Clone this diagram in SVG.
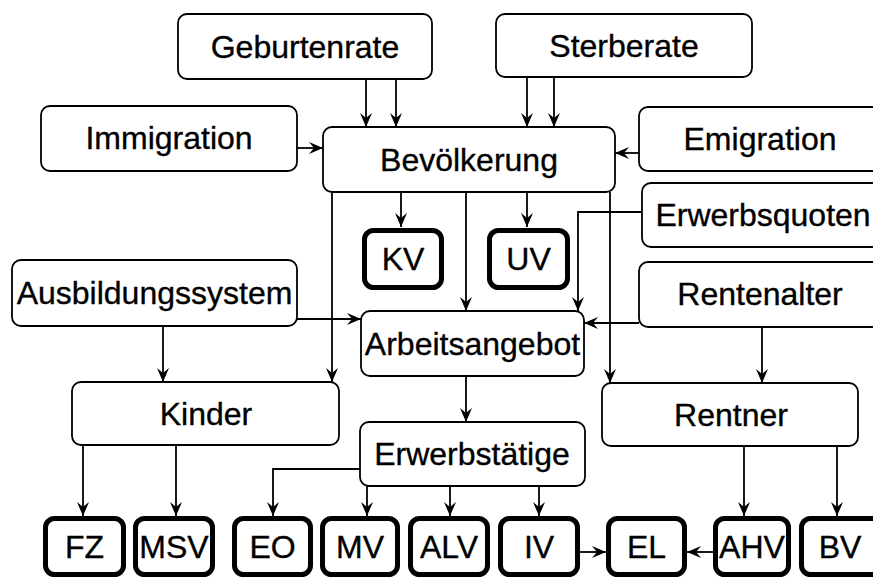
<svg xmlns="http://www.w3.org/2000/svg" width="873" height="578" viewBox="0 0 873 578">
  <style>
    .box { fill: #fff; stroke: #000; stroke-width: 1.8; }
    .ins { fill: #fff; stroke: #000; stroke-width: 5; }
    .lbl { font-family: "Liberation Sans", Arial, sans-serif; font-size: 32px; fill: #000; stroke: #000; stroke-width: 0.35; text-anchor: middle; }
    .edge { fill: none; stroke: #000; stroke-width: 1.8; marker-end: url(#arr); }
  </style>
  <defs>
    <marker id="arr" markerUnits="userSpaceOnUse" viewBox="-15 -7 16 14" refX="0" refY="0" markerWidth="16" markerHeight="14" orient="auto">
      <path d="M-14,-6 L0,0 L-14,6 L-9,0 z" fill="#000"/>
    </marker>
  </defs>

  <rect width="873" height="578" fill="#fff"/>

  <!-- connectors -->
  <g id="connectors">
    <path class="edge" d="M366,79 V127"/>
    <path class="edge" d="M396,79 V127"/>
    <path class="edge" d="M527,77 V127"/>
    <path class="edge" d="M554,77 V127"/>
    <path class="edge" d="M297,148 H323"/>
    <path class="edge" d="M639,153 H615"/>
    <path class="edge" d="M332,192 V382"/>
    <path class="edge" d="M401,192 V227"/>
    <path class="edge" d="M466,192 V311"/>
    <path class="edge" d="M527,192 V227"/>
    <path class="edge" d="M610,192 V383"/>
    <path class="edge" d="M642,212 H578 V311"/>
    <path class="edge" d="M297,319 H361"/>
    <path class="edge" d="M163,326 V382"/>
    <path class="edge" d="M639,323 H584"/>
    <path class="edge" d="M762,327 V383"/>
    <path class="edge" d="M466,376 V422"/>
    <path class="edge" d="M83,445 V516"/>
    <path class="edge" d="M176,445 V516"/>
    <path class="edge" d="M360,469 H273 V516"/>
    <path class="edge" d="M367,486 V516"/>
    <path class="edge" d="M450,486 V516"/>
    <path class="edge" d="M539,486 V516"/>
    <path class="edge" d="M580,552 H606"/>
    <path class="edge" d="M713,552 H687"/>
    <path class="edge" d="M744,446 V516"/>
    <path class="edge" d="M837,446 V516"/>
  </g>

  <!-- input nodes -->
  <g id="geburtenrate"><rect class="box" x="178" y="14" width="254" height="65" rx="9"/><text class="lbl" x="305" y="58">Geburtenrate</text></g>
  <g id="sterberate"><rect class="box" x="496" y="14" width="256" height="63" rx="9"/><text class="lbl" x="624" y="57">Sterberate</text></g>
  <g id="immigration"><rect class="box" x="41" y="106" width="256" height="65" rx="9"/><text class="lbl" x="169" y="149">Immigration</text></g>
  <g id="emigration"><rect class="box" x="639" y="107" width="245" height="64" rx="9"/><text class="lbl" x="760" y="150">Emigration</text></g>
  <g id="bevoelkerung"><rect class="box" x="323" y="127" width="292" height="65" rx="9"/><text class="lbl" x="469" y="171">Bevölkerung</text></g>
  <g id="erwerbsquoten"><rect class="box" x="642" y="183" width="245" height="64" rx="9"/><text class="lbl" x="763" y="226">Erwerbsquoten</text></g>
  <g id="ausbildungssystem"><rect class="box" x="12" y="260" width="285" height="66" rx="9"/><text class="lbl" x="154.5" y="304">Ausbildungssystem</text></g>
  <g id="rentenalter"><rect class="box" x="639" y="262" width="245" height="65" rx="9"/><text class="lbl" x="760" y="305">Rentenalter</text></g>
  <g id="arbeitsangebot"><rect class="box" x="361" y="311" width="223" height="65" rx="9"/><text class="lbl" x="472.5" y="355">Arbeitsangebot</text></g>
  <g id="kinder"><rect class="box" x="72" y="382" width="267" height="63" rx="9"/><text class="lbl" x="206" y="425">Kinder</text></g>
  <g id="rentner"><rect class="box" x="602" y="383" width="256" height="63" rx="9"/><text class="lbl" x="731" y="426">Rentner</text></g>
  <g id="erwerbstaetige"><rect class="box" x="360" y="422" width="225" height="64" rx="9"/><text class="lbl" x="472" y="465">Erwerbstätige</text></g>

  <!-- insurance nodes (thick frames) -->
  <g id="kv"><rect class="ins" x="364.5" y="230.5" width="77" height="57" rx="9"/><text class="lbl" x="403" y="270">KV</text></g>
  <g id="uv"><rect class="ins" x="489.5" y="230.5" width="78" height="57" rx="9"/><text class="lbl" x="528.5" y="270">UV</text></g>
  <g id="fz"><rect class="ins" x="45.5" y="518.5" width="78" height="56" rx="9"/><text class="lbl" x="84.5" y="558">FZ</text></g>
  <g id="msv"><rect class="ins" x="135.5" y="518.5" width="77" height="56" rx="9"/><text class="lbl" x="174" y="558">MSV</text></g>
  <g id="eo"><rect class="ins" x="234.5" y="518.5" width="76" height="56" rx="9"/><text class="lbl" x="272.5" y="558">EO</text></g>
  <g id="mv"><rect class="ins" x="322.5" y="518.5" width="75" height="56" rx="9"/><text class="lbl" x="360" y="558">MV</text></g>
  <g id="alv"><rect class="ins" x="410.5" y="518.5" width="77" height="56" rx="9"/><text class="lbl" x="449" y="558">ALV</text></g>
  <g id="iv"><rect class="ins" x="500.5" y="518.5" width="77" height="56" rx="9"/><text class="lbl" x="539" y="558">IV</text></g>
  <g id="el"><rect class="ins" x="608.5" y="518.5" width="76" height="56" rx="9"/><text class="lbl" x="646.5" y="558">EL</text></g>
  <g id="ahv"><rect class="ins" x="715.5" y="518.5" width="73" height="56" rx="9"/><text class="lbl" x="752" y="558">AHV</text></g>
  <g id="bv"><rect class="ins" x="801.5" y="518.5" width="80" height="56" rx="9"/><text class="lbl" x="840" y="558">BV</text></g>
</svg>
